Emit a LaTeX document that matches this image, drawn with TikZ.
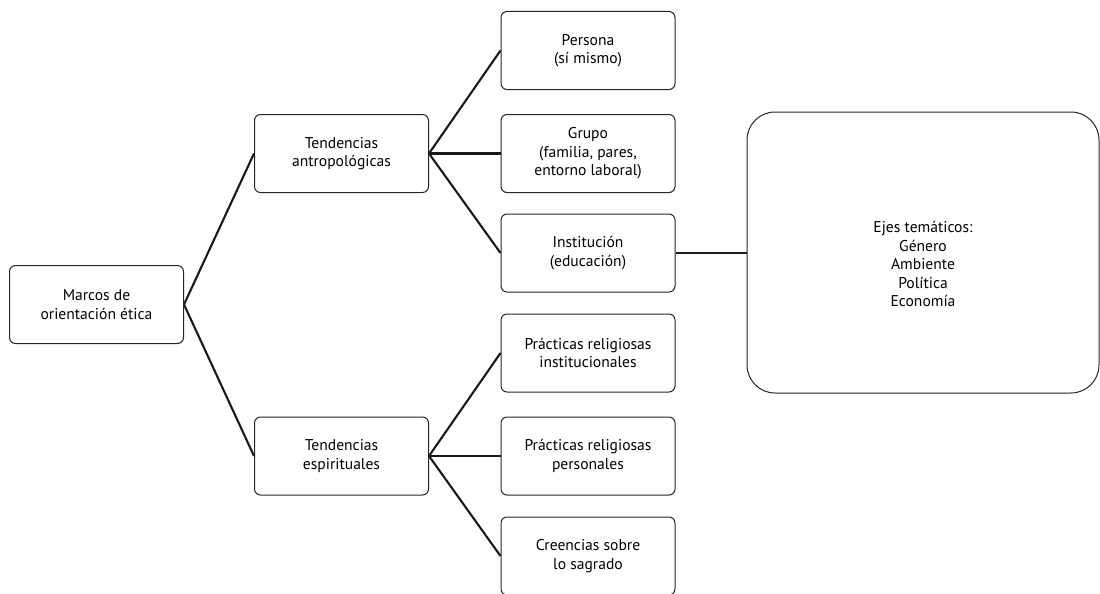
\documentclass[tikz,border=0pt]{standalone}
\usepackage{fontspec}
\setmainfont{PT Sans}
\begin{document}
\begin{tikzpicture}[x=1pt,y=-1pt,
  box/.style={draw=black!85, line width=1pt, rounded corners=6pt, align=center,
    minimum width=174pt, minimum height=78pt, inner sep=0pt,
    font=\fontsize{15.6}{18.5}\selectfont},
  link/.style={draw=black!90, line width=2.1pt}]
\clip (0,0) rectangle (1100,594);
\useasboundingbox (0,0) rectangle (1100,594);
\node[box] (marcos) at (96.5,304.5) {Marcos de\\orientación ética};
\node[box] (antro) at (341.5,153.5) {Tendencias\\antropológicas};
\node[box] (espi) at (341.5,456) {Tendencias\\espirituales};
\node[box] (persona) at (588,50.5) {Persona\\(sí mismo)};
\node[box] (grupo) at (588,153.5) {Grupo\\(familia, pares,\\entorno laboral)};
\node[box] (inst) at (588,253) {Institución\\(educación)};
\node[box] (pinst) at (588,353) {Prácticas religiosas\\institucionales};
\node[box] (ppers) at (588,456) {Prácticas religiosas\\personales};
\node[box] (creen) at (588,556) {Creencias sobre\\lo sagrado};
\node[box, minimum width=352pt, minimum height=281pt, rounded corners=28pt] (ejes) at (923,252.5) {};
\node[align=center, font=\fontsize{15.6}{18.5}\selectfont] (ejestxt) at (923,264) {Ejes temáticos:\\Género\\Ambiente\\Política\\Economía};
\draw[link] (marcos.east) -- (antro.west);
\draw[link] (marcos.east) -- (espi.west);
\draw[link] (antro.east) -- (persona.west);
\draw[link] (antro.east) -- (grupo.west);
\draw[link] (antro.east) -- (inst.west);
\draw[link] (espi.east) -- (pinst.west);
\draw[link] (espi.east) -- (ppers.west);
\draw[link] (espi.east) -- (creen.west);
\draw[link] (inst.east) -- (ejes.west |- inst.east);
\end{tikzpicture}
\end{document}
